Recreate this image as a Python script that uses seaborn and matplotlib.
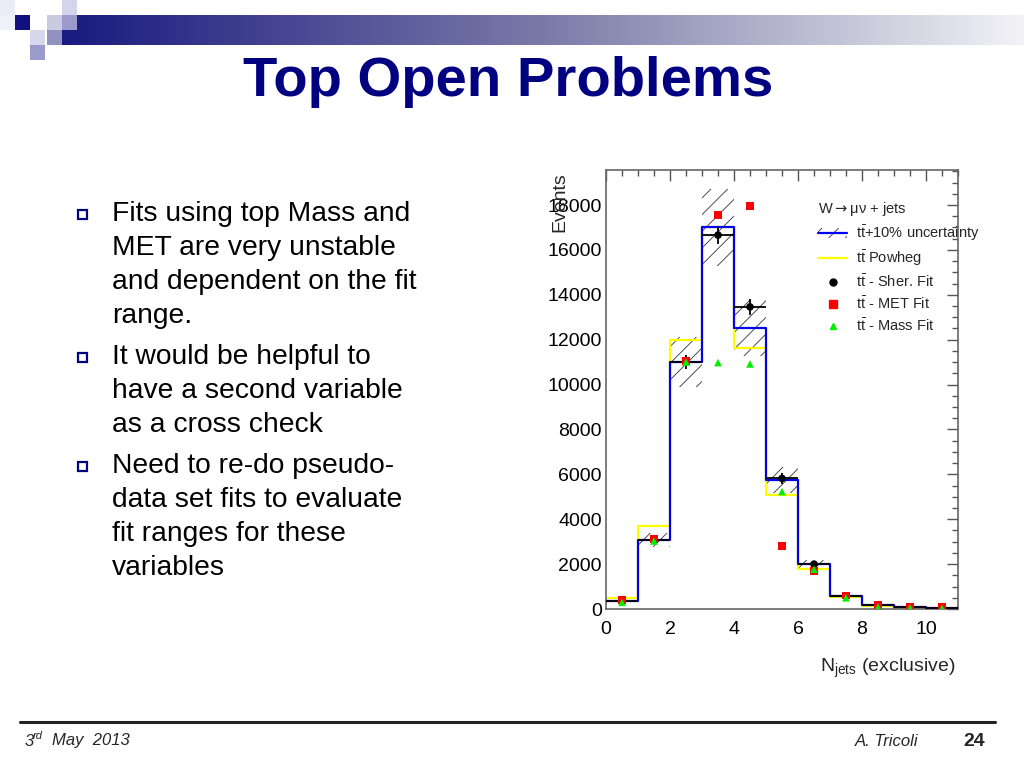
import numpy as np
import pandas as pd
import seaborn as sns
import matplotlib.pyplot as plt
from matplotlib.patches import Rectangle, Patch
from matplotlib.lines import Line2D
from matplotlib.colors import LinearSegmentedColormap
from matplotlib.font_manager import FontProperties

# N_jets (exclusive) bins 0..11
bin_edges = list(range(0, 12))
bin_centers = [b + 0.5 for b in bin_edges[:-1]]

ttbar_nominal = [350, 3070, 11000, 17000, 12530, 5750, 2000, 580, 160, 70, 30]
ttbar_powheg = [480, 3680, 11970, 17040, 11650, 5080, 1800, 550, 150, 60, 25]
sher_fit = [350, 3070, 11000, 16660, 13460, 5820, 2000, 580, 160, 80, 50]
sher_err = [60, 170, 320, 380, 360, 230, 130, 70, 40, 60, 60]
met_fit = [400, 3100, 11050, 17560, 17960, 2790, 1690, 600, 180, 100, 80]
mass_fit = [300, 3030, 11000, 10980, 10920, 5230, 1770, 500, 90, 50, 30]

y_ticks = [0, 2000, 4000, 6000, 8000, 10000, 12000, 14000, 16000, 18000]
x_ticks = [0, 2, 4, 6, 8, 10]

bullets = [
    ["Fits using top Mass and", "MET are very unstable",
     "and dependent on the fit", "range."],
    ["It would be helpful to", "have a second variable", "as a cross check"],
    ["Need to re-do pseudo-", "data set fits to evaluate",
     "fit ranges for these", "variables"],
]

df = pd.DataFrame({"njets": bin_centers, "nominal": ttbar_nominal,
                   "powheg": ttbar_powheg, "sher": sher_fit,
                   "met": met_fit, "mass": mass_fit})

sns.set_style("white")
plt.rcParams['font.family'] = ['Liberation Sans', 'DejaVu Sans']
plt.rcParams['mathtext.fontset'] = 'custom'
plt.rcParams['mathtext.rm'] = 'Liberation Sans'
plt.rcParams['mathtext.it'] = 'Liberation Sans:italic'
plt.rcParams['hatch.linewidth'] = 0.6

W, H = 1024, 768
fig = plt.figure(figsize=(W / 100, H / 100), dpi=100)


def fx(px):
    return px / W


def fy(py):
    return 1 - py / H


# header decoration
grad = fig.add_axes([fx(62), fy(45), 1 - fx(62), 30 / H])
cmap = LinearSegmentedColormap.from_list("hdr", ["#1a1a80", "#7a7aa8", "#f2f2f6"])
grad.imshow(np.linspace(0, 1, 256)[None, :], aspect='auto', cmap=cmap)
grad.axis('off')

squares = [
    (0, 0, "#ececf6"), (62, 0, "#d4d4ea"), (15, 15, "#10107e"),
    (47, 15, "#cacae2"), (62, 15, "#9a9acb"), (30, 30, "#d8d8ec"),
    (47, 30, "#9292c2"), (30, 45, "#9a9acb"), (0, 15, "#f0f0f8"),
]
for sx, sy, c in squares:
    fig.patches.append(Rectangle((fx(sx), fy(sy + 15)), 15 / W, 15 / H,
                                 transform=fig.transFigure, color=c, lw=0))

fig.text(fx(508), fy(82), "Top Open Problems", ha='center', va='center',
         fontsize=40.5, fontweight='bold', color='#000080')

# bullet list
y = 214
for group in bullets:
    fig.patches.append(Rectangle((fx(78), fy(y + 5)), 9 / W, 9 / H,
                                 transform=fig.transFigure, fill=False,
                                 edgecolor='#000080', lw=1.6))
    for line in group:
        fig.text(fx(112), fy(y), line, ha='left', va='center', fontsize=20.3,
                 color='black')
        y += 34
    y += 7

# footer
fig.add_artist(Line2D([fx(20), fx(995)], [fy(722), fy(722)], color='#222222',
                      lw=2.2, transform=fig.transFigure))
fig.text(fx(25), fy(741), "3", fontsize=12, style='italic', va='center')
fig.text(fx(33), fy(736), "rd", fontsize=8, style='italic', va='center')
fig.text(fx(52), fy(741), "May  2013", fontsize=12, style='italic', va='center')
fig.text(fx(918), fy(741), "A. Tricoli", fontsize=12, style='italic',
         va='center', ha='right')
fig.text(fx(985), fy(741), "24", fontsize=14, fontweight='bold',
         va='center', ha='right')

# histogram panel
ax = fig.add_axes([fx(606), fy(609), 352 / W, 439 / H])
nominal = df["nominal"].to_numpy(dtype=float)
ax.bar(df["njets"], 0.2 * nominal, bottom=0.9 * nominal, width=1.0,
       fill=False, hatch='//', edgecolor='#333333', linewidth=0, zorder=1)
sns.histplot(data=df, x="njets", weights="powheg", bins=bin_edges,
             element='step', fill=False, color='#ffff00', linewidth=1.6,
             ax=ax, zorder=2)
sns.histplot(data=df, x="njets", weights="nominal", bins=bin_edges,
             element='step', fill=False, color='#0000ee', linewidth=1.6,
             ax=ax, zorder=3)
ax.errorbar(df["njets"], df["sher"], xerr=0.5, yerr=sher_err, fmt='none',
            ecolor='black', elinewidth=1.3, capsize=0, zorder=4)
sns.scatterplot(data=df, x="njets", y="sher", marker='o', color='black', s=30,
                edgecolor='none', ax=ax, zorder=5)
sns.scatterplot(data=df, x="njets", y="met", marker='s', color='#ff0000', s=32,
                edgecolor='none', ax=ax, zorder=6)
sns.scatterplot(data=df, x="njets", y="mass", marker='^', color='#00ee00', s=30,
                edgecolor='none', ax=ax, zorder=7)

ax.set_xlim(0, 11)
ax.set_ylim(0, 19560)
ax.set_xticks(x_ticks)
ax.set_yticks(y_ticks)
ax.set_xticks(np.arange(0, 11.01, 0.5), minor=True)
ax.set_yticks(np.arange(0, 19501, 500), minor=True)
ax.tick_params(which='both', direction='in', top=True, right=True,
               colors='#555555', labelcolor='black', labelsize=14)
ax.tick_params(which='major', length=8, width=1)
ax.tick_params(which='minor', length=4, width=1)
ax.tick_params(axis='x', pad=9)
ax.tick_params(axis='y', pad=3)
ax.set_xlabel("")
ax.set_ylabel("")
for sp in ax.spines.values():
    sp.set_color('#666666')
    sp.set_linewidth(1.2)

fig.text(fx(560), fy(172), "Events", rotation=90, ha='center', va='top',
         fontsize=14)
fig.text(fx(955), fy(668), r"N$_{\mathregular{jets}}$ (exclusive)", ha='right',
         va='center', fontsize=14)

tt = r"t$\mathregular{\bar{t}}$"
handles = [
    (Patch(facecolor='none', edgecolor='#333333', hatch='//', lw=0),
     Line2D([], [], color='#0000ee', lw=1.6)),
    Line2D([], [], color='#ffff00', lw=1.6),
    Line2D([], [], marker='o', color='black', ls='none', ms=5),
    Line2D([], [], marker='s', color='#ff0000', ls='none', ms=5.5),
    Line2D([], [], marker='^', color='#00ee00', ls='none', ms=5),
]
labels = [tt + "+10% uncertainty", tt + " Powheg", tt + " - Sher. Fit",
          tt + " - MET Fit", tt + " - Mass Fit"]
title_font = FontProperties(family=['Liberation Sans', 'DejaVu Sans'],
                            size=10.5, math_fontfamily='dejavusans')
ax.legend(handles, labels, title=r"W$\rightarrow$μν + jets",
          title_fontproperties=title_font, loc='upper left',
          bbox_to_anchor=(fx(818), fy(200)), bbox_transform=fig.transFigure,
          frameon=False, alignment='left', fontsize=10.5,
          handlelength=2.0, handletextpad=0.6, labelspacing=0.36,
          borderpad=0, borderaxespad=0)

fig.savefig("out.png", dpi=100)
